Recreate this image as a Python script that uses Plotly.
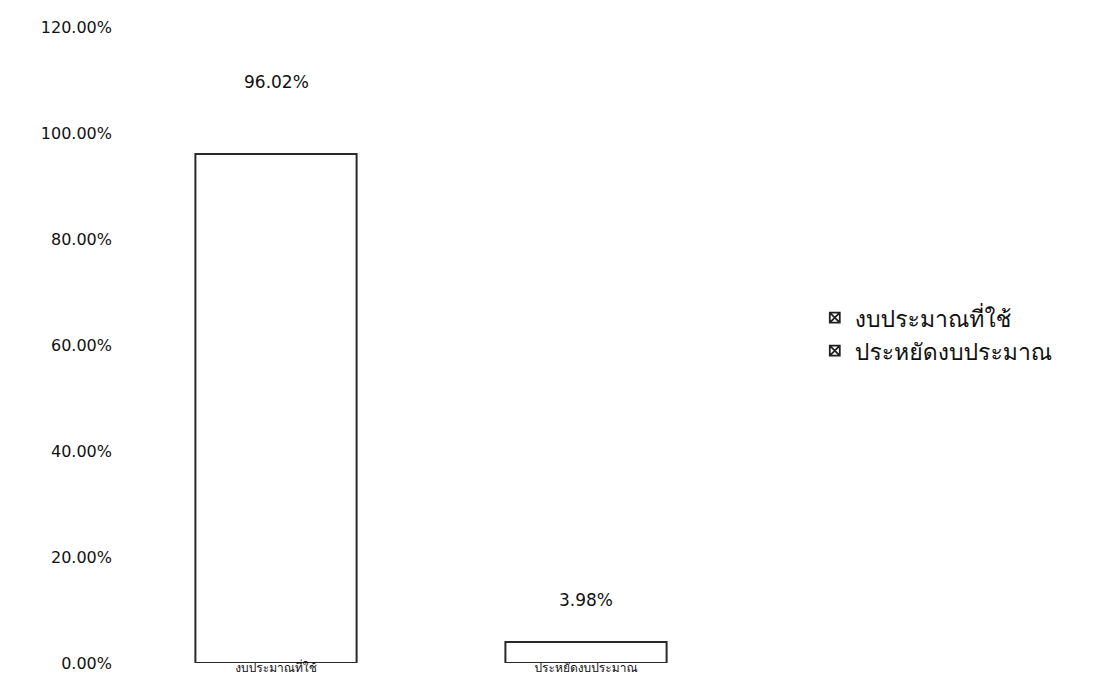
import plotly.graph_objects as go

categories = ["งบประมาณที่ใช้", "ประหยัดงบประมาณ"]
values = [96.02, 3.98]
value_labels = ["96.02%", "3.98%"]
y_ticks = [0, 20, 40, 60, 80, 100, 120]
y_tick_labels = ["0.00%", "20.00%", "40.00%", "60.00%", "80.00%", "100.00%", "120.00%"]
label_shifts = [72, 42]

thai_font = "Norasi, Loma, Garuda, Noto Sans Thai, DejaVu Serif, serif"
num_font = "DejaVu Sans, Verdana, sans-serif"

fig = go.Figure()
for cat, val in zip(categories, values):
    fig.add_trace(go.Bar(
        x=[cat], y=[val], name=cat, width=0.52, showlegend=False,
        marker=dict(color="white", line=dict(color="#2a2a2a", width=2)),
    ))
# legend entries
for cat in categories:
    fig.add_trace(go.Scatter(
        x=[None], y=[None], mode="markers", name=cat,
        marker=dict(symbol="square-x-open", size=10, color="#222222", line=dict(width=1.8)),
    ))

for cat, val, lab, sh in zip(categories, values, value_labels, label_shifts):
    fig.add_annotation(x=cat, y=val, text=lab, showarrow=False, yshift=sh,
                       font=dict(size=17, color="#111111", family=num_font))

fig.update_layout(
    width=1091, height=670,
    paper_bgcolor="white", plot_bgcolor="white",
    barmode="overlay",
    margin=dict(l=113, r=358, t=19, b=15),
    showlegend=True,
    legend=dict(x=1.119, y=0.517, xanchor="left", yanchor="middle",
                font=dict(size=23, family=thai_font, color="#111111"),
                itemwidth=30, tracegroupgap=0, bgcolor="rgba(0,0,0,0)"),
    xaxis=dict(showgrid=False, zeroline=False, showline=False, ticks="",
               automargin=False, range=[-0.5, 1.5], ticklabelstandoff=-4,
               tickfont=dict(size=12, family=thai_font, color="#111111")),
    yaxis=dict(range=[0, 120], tickvals=y_ticks, ticktext=y_tick_labels,
               showgrid=False, zeroline=False, showline=False, ticks="",
               automargin=False, ticklabelstandoff=8,
               tickfont=dict(size=16, family=num_font, color="#111111")),
)

fig.write_html("out.html")
